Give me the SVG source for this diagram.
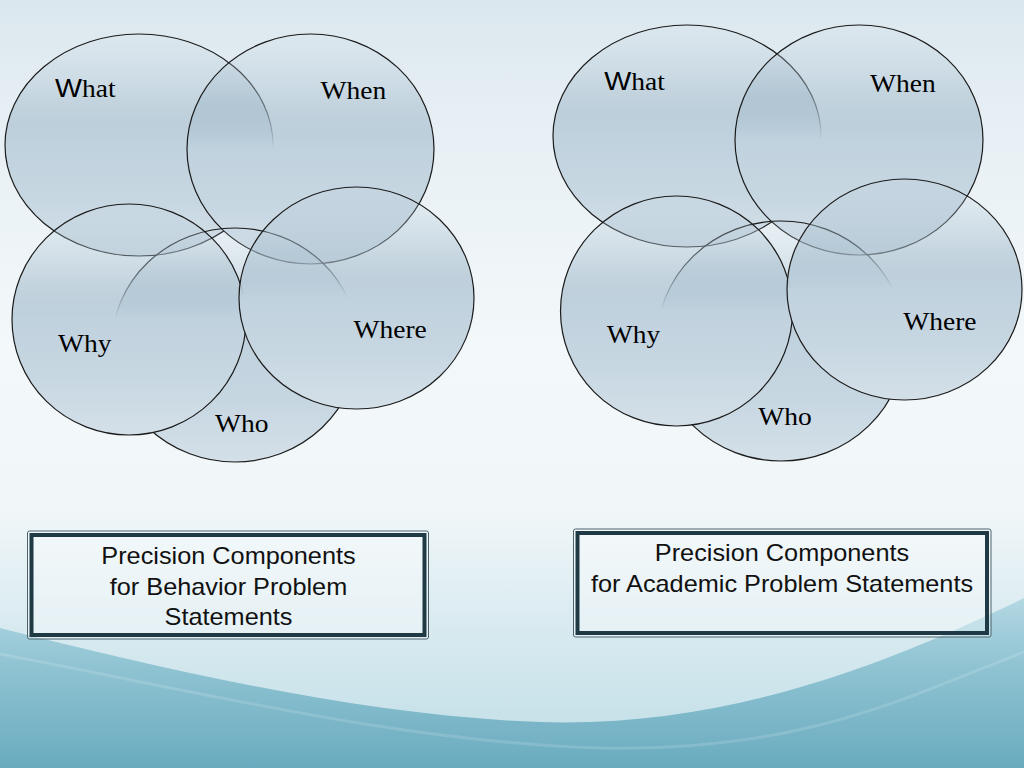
<svg xmlns="http://www.w3.org/2000/svg" width="1024" height="768" viewBox="0 0 1024 768">
<defs>
<linearGradient id="bg" x1="0" y1="0" x2="0" y2="1">
<stop offset="0" stop-color="#dbe7ee"/>
<stop offset="0.15" stop-color="#e6eff4"/>
<stop offset="0.45" stop-color="#f3f8fa"/>
<stop offset="0.66" stop-color="#f1f7f9"/>
<stop offset="0.82" stop-color="#d8eaf0"/>
<stop offset="1" stop-color="#bfdde6"/>
</linearGradient>
<linearGradient id="wave" gradientUnits="userSpaceOnUse" x1="0" y1="600" x2="0" y2="768">
<stop offset="0" stop-color="#b2d7e2"/>
<stop offset="0.4" stop-color="#8fc3d2"/>
<stop offset="1" stop-color="#6aabbf"/>
</linearGradient>
<linearGradient id="cfill" x1="0" y1="0" x2="0" y2="1">
<stop offset="0" stop-color="#c0d2de" stop-opacity="0.1"/>
<stop offset="0.15" stop-color="#adc3d2" stop-opacity="0.3"/>
<stop offset="0.3" stop-color="#a3bbcb" stop-opacity="0.5"/>
<stop offset="0.42" stop-color="#b3c7d5" stop-opacity="0.8"/>
<stop offset="0.5" stop-color="#c0d2de" stop-opacity="1"/>
<stop offset="0.75" stop-color="#c7d7e2" stop-opacity="1"/>
<stop offset="1" stop-color="#d4e0e8" stop-opacity="1"/>
</linearGradient>
<style>
.cs{fill:url(#cfill);stroke:#1b1b1b;stroke-width:1.2}
.lbl{font-family:"Liberation Serif","Times New Roman",serif;font-size:25px;fill:#000}
.ws{font-family:"Liberation Sans",Arial,sans-serif;font-size:26px}
.bo{fill:#ffffff;fill-opacity:0.35;stroke:#4a626c;stroke-width:1}
.bi{fill:none;stroke:#1f3a45;stroke-width:4}
.bt{font-family:"Liberation Sans",Arial,sans-serif;font-size:23px;fill:#111;text-anchor:middle}
</style>
</defs>

<g id="background">
<rect x="0" y="0" width="1024" height="768" fill="url(#bg)"/>
<path d="M0,628 C160,668 360,716 540,722 C720,728 880,668 1024,598 L1024,768 L0,768 Z" fill="url(#wave)"/>
<path d="M0,654 C200,692 400,742 600,748 C800,752 900,700 1024,652" fill="none" stroke="#ffffff" stroke-opacity="0.14" stroke-width="3"/>
</g>

<g id="left-cluster">
<g id="L-what">
<ellipse class="cs" cx="139" cy="145" rx="134" ry="111"/>
<text class="lbl" transform="translate(55,97) scale(1.1,1)"><tspan class="ws">W</tspan>hat</text>
</g>
<g id="L-when">
<ellipse class="cs" cx="310.5" cy="149" rx="123.5" ry="115"/>
<text class="lbl" transform="translate(320.5,99) scale(1.1,1)">When</text>
</g>
<g id="L-who">
<ellipse class="cs" cx="235" cy="345" rx="123" ry="117"/>
<text class="lbl" transform="translate(215,432) scale(1.1,1)">Who</text>
</g>
<g id="L-why">
<ellipse class="cs" cx="129" cy="319.5" rx="117" ry="115.5"/>
<text class="lbl" transform="translate(58,352) scale(1.1,1)">Why</text>
</g>
<g id="L-where">
<ellipse class="cs" cx="356.5" cy="298" rx="117.5" ry="111"/>
<text class="lbl" transform="translate(353.5,338) scale(1.1,1)">Where</text>
</g>
</g>

<g id="right-cluster">
<g id="R-what">
<ellipse class="cs" cx="687" cy="136" rx="134" ry="111"/>
<text class="lbl" transform="translate(604.3,90) scale(1.1,1)"><tspan class="ws">W</tspan>hat</text>
</g>
<g id="R-when">
<ellipse class="cs" cx="859" cy="140" rx="124" ry="115"/>
<text class="lbl" transform="translate(870,91.7) scale(1.1,1)">When</text>
</g>
<g id="R-who">
<ellipse class="cs" cx="781" cy="341" rx="124" ry="120"/>
<text class="lbl" transform="translate(758.3,425) scale(1.1,1)">Who</text>
</g>
<g id="R-why">
<ellipse class="cs" cx="676.5" cy="311" rx="116" ry="115"/>
<text class="lbl" transform="translate(606.7,343.3) scale(1.1,1)">Why</text>
</g>
<g id="R-where">
<ellipse class="cs" cx="904.5" cy="289.5" rx="117.5" ry="110.5"/>
<text class="lbl" transform="translate(903.3,330) scale(1.1,1)">Where</text>
</g>
</g>

<g id="box-behavior">
<rect class="bo" x="27.5" y="531" width="401" height="108" rx="2"/>
<rect class="bi" x="31.5" y="535" width="393" height="100"/>
<text class="bt" transform="translate(228.5,564) scale(1.1,1)">Precision Components</text>
<text class="bt" transform="translate(228.5,595) scale(1.1,1)">for Behavior Problem</text>
<text class="bt" transform="translate(228.5,625) scale(1.1,1)">Statements</text>
</g>

<g id="box-academic">
<rect class="bo" x="573.5" y="529" width="417.5" height="108" rx="2"/>
<rect class="bi" x="577.5" y="533" width="409.5" height="100"/>
<text class="bt" transform="translate(782,561) scale(1.1,1)">Precision Components</text>
<text class="bt" transform="translate(782,592) scale(1.1,1)">for Academic Problem Statements</text>
</g>

<g id="connectors"></g>
</svg>
